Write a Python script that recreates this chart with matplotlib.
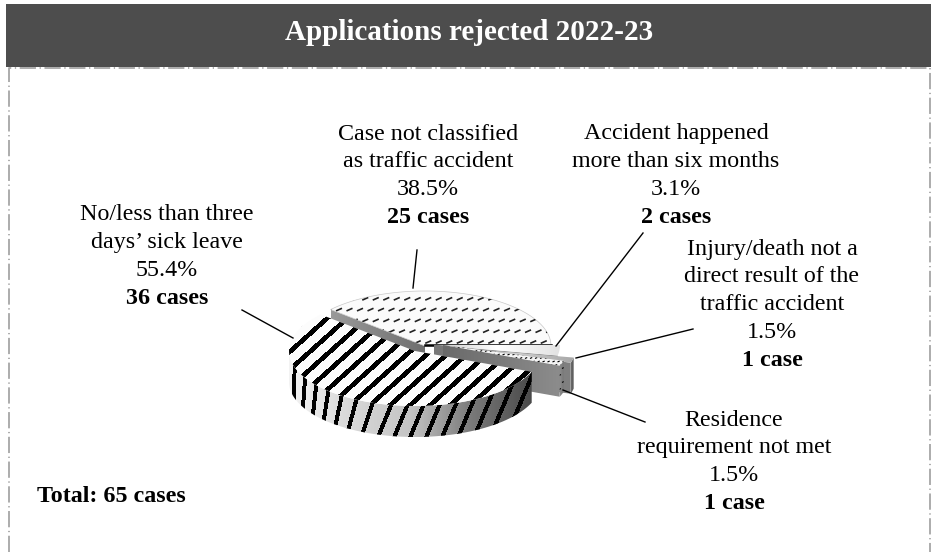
import matplotlib
matplotlib.use('Agg')
import matplotlib.pyplot as plt
import numpy as np
from matplotlib.collections import LineCollection
from matplotlib.patches import Polygon

plt.rcParams['font.family'] = ['Liberation Serif', 'DejaVu Serif']

title = "Applications rejected 2022-23"
total_label = "Total: 65 cases"

# counter-clockwise from 3 o'clock
slice_names = ["case", "sick", "residence", "injury", "accident"]
cases = [25, 36, 1, 1, 2]
percent_labels = ["38.5%", "55.4%", "1.5%", "1.5%", "3.1%"]
case_labels = ["25 cases", "36 cases", "1 case", "1 case", "2 cases"]
name_lines = [
    ["Case not classified", "as traffic accident"],
    ["No/less than three", "days\u2019 sick leave"],
    ["Residence", "requirement not met"],
    ["Injury/death not a", "direct result of the", "traffic accident"],
    ["Accident happened", "more than six months"],
]

# pie geometry in pixels
RX, RY = 126, 55
DEPTH = 31
centers = {
    "case": (425, 346),
    "sick": (415, 351),
    "residence": (443, 345),
    "injury": (450, 347),
    "accident": (434, 345),
}

edges = np.concatenate([[0], np.cumsum(cases)]) / sum(cases) * 360
angles = {n: (edges[i], edges[i + 1]) for i, n in enumerate(slice_names)}


def arc(c, a1, a2, n=80):
    t = np.radians(np.linspace(a1, a2, n))
    return np.column_stack([c[0] + RX * np.cos(t), c[1] - RY * np.sin(t)])


def wedge(c, a1, a2):
    return np.vstack([[c], arc(c, a1, a2)])


def band(top):
    # extrude a line of points straight down by the pie depth
    low = top + [0, DEPTH]
    return np.vstack([top, low[::-1]])


def gradient_fill(ax, pts, stops, z):
    cmap = matplotlib.colors.LinearSegmentedColormap.from_list('g', stops)
    x0, x1 = pts[:, 0].min(), pts[:, 0].max()
    y0, y1 = pts[:, 1].min(), pts[:, 1].max()
    im = ax.imshow(np.linspace(0, 1, 256)[None, :], cmap=cmap, vmin=0, vmax=1,
                   extent=(x0, x1, y1, y0), aspect='auto', zorder=z)
    clip = Polygon(pts, closed=True, transform=ax.transData)
    im.set_clip_path(clip)


def clipped(ax, segs, pts, lw, z, aa=False, color='black'):
    lc = LineCollection(segs, colors=color, linewidths=lw, zorder=z,
                        antialiaseds=aa, capstyle='butt')
    ax.add_collection(lc)
    lc.set_clip_path(Polygon(pts, closed=True, transform=ax.transData))


def dashes(x0, x1, y0, y1, dx, dy, size):
    segs = []
    for row, y in enumerate(np.arange(y0, y1, dy)):
        for x in np.arange(x0 + (row % 2) * dx / 2, x1, dx):
            segs.append([(x, y + size * 0.22), (x + size, y - size * 0.22)])
    return segs


fig = plt.figure(figsize=(9.36, 5.52), dpi=100)
ax = fig.add_axes([0, 0, 1, 1])
ax.axis('off')

# header and frame
ax.fill_between([6, 931], 4, 66.5, color='#4d4d4d', lw=0, zorder=5)
ax.text(469, 32, title, color='white', fontsize=21, fontweight='bold',
        ha='center', va='center', zorder=6)
frame = dict(color='#a6a6a6', lw=1.3, dashes=(9, 2, 0.7, 2))
ax.plot([9, 9, 930, 930], [552, 67.5, 67.5, 552], **frame)

# case slice
c = centers["case"]
a1, a2 = angles["case"]
top = wedge(c, a1, a2)
cut = np.vstack([arc(c, a2, a2, 2)[0], c])
gradient_fill(ax, band(cut), ['#9a9a9a', '#6e6e6e'], 10)
ax.add_patch(Polygon(top, closed=True, fc='#fbfbfb', ec='#c8c8c8', lw=0.5, zorder=11))
clipped(ax, dashes(315, 560, 288, 346, 10.5, 10.8, 6), top, 1.2, 12, aa=True, color='#222222')
ax.plot([c[0], c[0] + RX], [c[1] - 1, c[1] - 1], color='black', lw=1.8, zorder=13)

# small slices, back to front
c = centers["accident"]
a1, a2 = angles["accident"]
top = wedge(c, a1, a2)
gradient_fill(ax, band(np.vstack([[c], arc(c, a1, a1, 2)[0]])), ['#777777', '#8a8a8a'], 14)
gradient_fill(ax, top, ['#c8c8c8', '#ffffff', '#e2e2e2'], 15)

c = centers["injury"]
a1, a2 = angles["injury"]
top = wedge(c, a1, a2)
gradient_fill(ax, band(np.vstack([[c], arc(c, a1, a1, 2)[0]])), ['#6e6e6e', '#808080'], 16)
outer = arc(c, a1, a2, 10)
gradient_fill(ax, band(outer), ['#6a6a6a', '#585858'], 16)
gradient_fill(ax, top, ['#8a8a8a', '#d0d0d0', '#a8a8a8'], 17)

c = centers["residence"]
a1, a2 = angles["residence"]
top = wedge(c, a1, a2)
gradient_fill(ax, band(np.vstack([[c], arc(c, a2, a2, 2)[0]])), ['#777777', '#8a8a8a'], 18)
gradient_fill(ax, band(np.vstack([[c], arc(c, a1, a1, 2)[0]])), ['#6a6a6a', '#8c8c8c'], 18)
outer = arc(c, a1, a2, 10)
gradient_fill(ax, band(outer), ['#8c8c8c', '#707070'], 18)
ax.add_patch(Polygon(top, closed=True, fc='#f4f4f4', ec='none', zorder=19))
clipped(ax, dashes(440, 575, 344, 370, 5, 3.5, 2.2), top, 0.8, 20, aa=True)
clipped(ax, dashes(556, 566, 368, 398, 6, 7, 2), band(outer), 0.8, 20, aa=True)

# big slice
c = centers["sick"]
a1, a2 = angles["sick"]
top = wedge(c, a1, a2)
front = arc(c, 180, a2)
side = band(front)
gradient_fill(ax, side, ['#f4f4f4', '#d8d8d8', '#c4c4c4', '#7a7a7a', '#4a4a4a'], 21)
# wall stripes sit closer together at the left edge of the pie
wall = []
x = 292.0
while x < 545:
    lean = np.clip((x - 285) / 90, 0, 1) * 0.42
    wall.append([(x, 450), (x + lean * 100, 350)])
    x += min(16, 8 + (x - 292) * 0.12)
clipped(ax, wall, side, 2.1, 22)
ax.add_patch(Polygon(top, closed=True, fc='#fcfcfc', ec='none', zorder=23))
stripes = [[(x, 450), (x + 190, 280)] for x in np.arange(60, 560, 20.0)]
clipped(ax, stripes, top, 2.4, 24)

# leader lines
leaders = [
    ([417, 413], [250, 288]),
    ([242, 293], [310, 338]),
    ([643, 556], [233, 346]),
    ([693, 576], [329, 358]),
    ([645, 563], [422, 390]),
]
for lx, ly in leaders:
    ax.plot(lx, ly, color='black', lw=1, zorder=30)


# labels
def label(cx, y, lines, pct, count):
    step = 27.8
    rows = lines + [pct]
    for i, row in enumerate(rows):
        ax.text(cx, y + i * step, row, fontsize=17.3, ha='center', va='center', zorder=31)
    ax.text(cx, y + len(rows) * step, count, fontsize=17.3, fontweight='bold',
            ha='center', va='center', zorder=31)


label(428, 134, name_lines[0], percent_labels[0], case_labels[0])
label(167, 215, name_lines[1], percent_labels[1], case_labels[1])
label(734, 420, name_lines[2], percent_labels[2], case_labels[2])
label(772, 249, name_lines[3], percent_labels[3], case_labels[3])
label(676, 134, name_lines[4], percent_labels[4], case_labels[4])
ax.text(37, 496, total_label, fontsize=17.3, fontweight='bold', ha='left', va='center')

ax.set_xlim(0, 936)
ax.set_ylim(552, 0)
fig.savefig('out.png', dpi=100)
